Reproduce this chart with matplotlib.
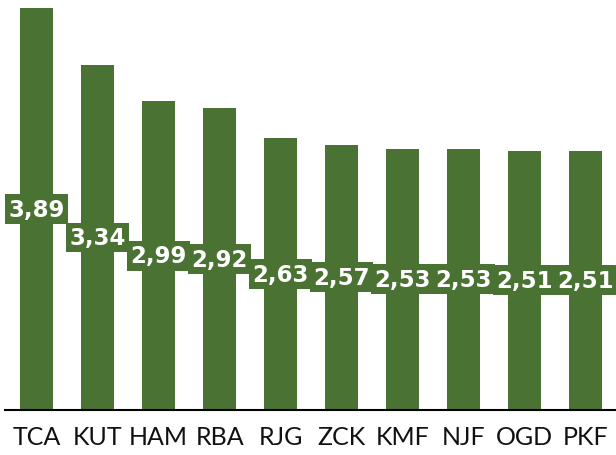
import matplotlib
matplotlib.use("Agg")
import matplotlib.pyplot as plt

# данные
codes = ["TCA", "KUT", "HAM", "RBA", "RJG", "ZCK", "KMF", "NJF", "OGD", "PKF"]
values = [3.89, 3.34, 2.99, 2.92, 2.63, 2.57, 2.53, 2.53, 2.51, 2.51]
green = "#4a7232"

fig = plt.figure(figsize=(6.16, 4.56), dpi=100)
ax = fig.add_axes([5 / 616, 45 / 456, 611 / 616, 410 / 456])

x = range(len(codes))
ax.bar(x, values, width=0.54, color=green)

for i, v in zip(x, values):
    ax.text(i, v / 2, f"{v:.2f}".replace(".", ","), ha="center", va="center",
            color="white", fontsize=16.5, fontweight="bold", family="DejaVu Sans",
            bbox=dict(boxstyle="square,pad=0.15", fc=green, ec="none"))

ax.set_xlim(-0.52, 9.5)
ax.set_ylim(0, 3.97)
ax.set_xticks(list(x))
ax.set_xticklabels(codes, fontsize=18, family="Lato", color="#111111")
ax.tick_params(axis="x", length=0, pad=11)
ax.set_yticks([])
for s in ["top", "right", "left"]:
    ax.spines[s].set_visible(False)
ax.spines["bottom"].set_linewidth(1.5)

fig.savefig("out.png", dpi=100)
